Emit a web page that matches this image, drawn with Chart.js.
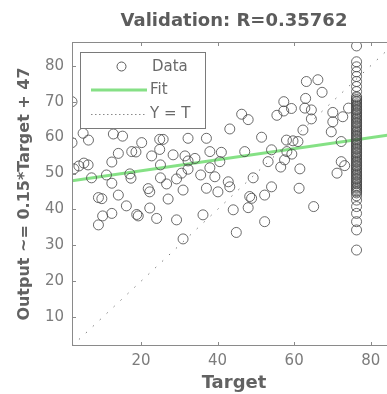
<!DOCTYPE html>
<html>
<head>
<meta charset="utf-8">
<title>Validation regression</title>
<script src="https://cdn.jsdelivr.net/npm/chart.js@4/dist/chart.umd.min.js"></script>
<style>
    html, body { margin: 0; padding: 0; background: #fff; overflow: hidden; }
    #wrap { width: 410px; height: 394px; }
</style>
</head>
<body>
<div id="wrap"><canvas id="regressionChart"></canvas></div>
<script>
// Datos (plotregression, conjunto de validacion)
const axisMin = 2;
const axisMax = 86.6;
const xTicks = [20, 40, 60, 80];
const yTicks = [10, 20, 30, 40, 50, 60, 70, 80];

// Puntos dispersos: target / output
const dataTarget = [
    2.0, 63.2, 66.2, 67.3, 57.3, 59.3, 57.3, 55.5, 63.0, 62.8, 64.5, 64.5, 62.3,
    70.1, 70.1, 72.7, 74.2, 69.7, 58.0, 59.7, 61.0, 72.3, 46.3, 48.0, 43.2, 32.3,
    37.1, 51.5, 4.9, 6.3, 2.0, 12.8, 15.2, 20.2, 14.1, 17.6, 18.7, 22.8, 24.9,
    25.8, 24.9, 28.4, 31.5, 32.3, 34.1, 38.0, 41.0, 40.6, 38.0, 47.1, 54.1, 53.2,
    58.1, 59.4, 57.5, 56.5, 72.3, 73.2, 71.2, 61.5, 61.3, 65.1, 2.5, 3.8, 5.1,
    6.2, 12.4, 7.1, 11.0, 12.4, 17.1, 17.4, 25.1, 25.1, 26.7, 29.3, 30.6, 32.3,
    35.6, 39.3, 31.0, 42.8, 43.2, 40.1, 37.1, 49.3, 54.1, 52.3, 48.4, 48.9, 48.0,
    44.1, 36.2, 29.3, 52.3, 44.9, 31.0, 8.9, 9.8, 14.1, 21.9, 22.3, 27.1, 16.2,
    22.3, 18.9, 19.3, 12.4, 10.0, 8.9, 24.1
];
const dataOutput = [
    70.0, 75.6, 76.1, 72.6, 70.0, 68.1, 67.4, 66.2, 70.9, 68.2, 67.7, 65.2, 62.1,
    67.0, 64.4, 65.8, 68.2, 61.6, 59.3, 59.1, 58.9, 58.9, 66.5, 65.0, 62.4, 59.8,
    59.8, 60.1, 61.2, 59.3, 58.6, 61.0, 60.4, 58.6, 55.6, 56.1, 56.0, 54.9, 59.5,
    59.5, 56.7, 55.2, 54.9, 53.5, 54.2, 56.1, 55.9, 53.3, 51.6, 56.1, 56.6, 53.3,
    56.1, 55.4, 53.8, 51.8, 53.3, 52.2, 50.1, 51.3, 45.9, 40.8, 51.3, 52.1, 52.9,
    52.4, 53.2, 48.8, 49.6, 47.3, 49.9, 48.7, 52.4, 48.8, 47.1, 48.5, 50.1, 51.2,
    49.6, 49.1, 45.4, 47.7, 46.3, 44.9, 45.9, 48.8, 46.3, 44.0, 43.6, 43.1, 40.5,
    39.9, 38.5, 37.1, 36.6, 33.6, 31.8, 43.3, 43.0, 44.0, 45.8, 44.9, 42.9, 41.0,
    40.4, 38.6, 38.2, 38.9, 38.2, 35.7, 37.5
];

// Columna de targets iguales (~76): la zona densa se ve como una banda gris
const columnTarget = 76.3;
const columnOutput = [
    85.5, 81.1, 79.7, 78.3, 77.0, 75.6, 74.2, 72.8,
    71.4, 71.1, 70.6, 70.2, 69.9, 69.4, 69.0, 68.7, 68.2, 67.8, 67.5, 67.0,
    66.6, 66.3, 65.8, 65.4, 65.1, 64.6, 64.2, 63.9, 63.4, 63.0, 62.7, 62.2,
    61.8, 61.5, 61.0, 60.6, 60.3, 59.8, 59.4, 59.1, 58.6, 58.2, 57.9, 57.4,
    57.0, 56.7, 56.2, 55.8, 55.5, 55.0, 54.6, 54.3, 53.8, 53.4, 53.1, 52.6,
    52.2, 51.9, 51.4, 51.0, 50.7, 50.2, 49.8, 49.5, 49.0, 48.6, 48.3, 47.8,
    47.4, 47.1, 46.6, 46.2, 45.9, 45.4, 45.0, 44.6,
    43.8, 42.6, 40.8, 38.9, 36.6, 34.3, 28.7
];

// Recta de ajuste y recta Y = T (extremos)
const fitTarget = [2, 86.6];
const fitOutput = [48.0, 61.0];
const identityTarget = [2, 86.6];
const identityOutput = [2, 86.6];

const FONT = 'DejaVu Sans';
const AXIS_COLOR = '#8a8a8a';
const TICK_COLOR = '#7c7c7c';
const LABEL_COLOR = '#626262';

const points = dataTarget.map((t, i) => ({ x: t, y: dataOutput[i] }))
    .concat(columnOutput.map(v => ({ x: columnTarget, y: v })));

// Marco, marcas interiores y leyenda al estilo MATLAB
const matlabFrame = {
    id: 'matlabFrame',
    afterDraw(chart) {
        const { ctx, chartArea: a, scales } = chart;
        ctx.save();
        ctx.strokeStyle = AXIS_COLOR;
        ctx.lineWidth = 1;
        ctx.strokeRect(a.left + 0.5, a.top + 0.5, a.right - a.left - 1, a.bottom - a.top - 1);

        ctx.beginPath();
        xTicks.forEach(v => {
            const px = Math.round(scales.x.getPixelForValue(v)) + 0.5;
            ctx.moveTo(px, a.bottom); ctx.lineTo(px, a.bottom - 4);
            ctx.moveTo(px, a.top); ctx.lineTo(px, a.top + 4);
        });
        yTicks.forEach(v => {
            const py = Math.round(scales.y.getPixelForValue(v)) + 0.5;
            ctx.moveTo(a.left, py); ctx.lineTo(a.left + 4, py);
            ctx.moveTo(a.right, py); ctx.lineTo(a.right - 4, py);
        });
        ctx.stroke();

        // leyenda
        const box = { left: 80, top: 52, right: 205, bottom: 128 };
        ctx.fillStyle = '#fff';
        ctx.fillRect(box.left, box.top, box.right - box.left, box.bottom - box.top);
        ctx.strokeStyle = '#7a7a7a';
        ctx.strokeRect(box.left + 0.5, box.top + 0.5, box.right - box.left, box.bottom - box.top);

        ctx.strokeStyle = '#5a5a5a';
        ctx.beginPath();
        ctx.arc(121.5, 66.5, 4.5, 0, Math.PI * 2);
        ctx.stroke();

        ctx.strokeStyle = '#86e086';
        ctx.lineWidth = 3;
        ctx.beginPath();
        ctx.moveTo(91, 90); ctx.lineTo(147, 90);
        ctx.stroke();

        ctx.strokeStyle = '#8a8a8a';
        ctx.lineWidth = 1;
        ctx.setLineDash([1.5, 2.5]);
        ctx.beginPath();
        ctx.moveTo(91, 114.5); ctx.lineTo(147, 114.5);
        ctx.stroke();
        ctx.setLineDash([]);

        ctx.fillStyle = '#6a6a6a';
        ctx.font = '15px "' + FONT + '"';
        ctx.textBaseline = 'middle';
        ctx.textAlign = 'left';
        ctx.fillText('Data', 152, 67);
        ctx.fillText('Fit', 150, 90);
        ctx.fillText('Y = T', 150, 114);
        ctx.restore();
    }
};

const ctx = document.getElementById('regressionChart');
new Chart(ctx.getContext('2d'), {
    type: 'scatter',
    data: {
        datasets: [
            {
                label: 'Data',
                data: points,
                pointStyle: 'circle',
                pointRadius: 5,
                pointBorderWidth: 1,
                pointBackgroundColor: 'rgba(0, 0, 0, 0)',
                pointBorderColor: 'rgba(70, 70, 70, 0.8)'
            },
            {
                label: 'Y = T',
                data: identityTarget.map((t, i) => ({ x: t, y: identityOutput[i] })),
                showLine: true,
                borderColor: '#7a7a7a',
                borderWidth: 1,
                borderDash: [1.5, 8],
                pointRadius: 0
            },
            {
                label: 'Fit',
                data: fitTarget.map((t, i) => ({ x: t, y: fitOutput[i] })),
                showLine: true,
                borderColor: 'rgba(120, 222, 120, 0.9)',
                borderWidth: 3,
                pointRadius: 0
            }
        ]
    },
    options: {
        responsive: true,
        maintainAspectRatio: false,
        animation: false,
        layout: {
            padding: { left: 0, right: 14, top: 0, bottom: 0 }
        },
        plugins: {
            legend: { display: false },
            tooltip: { enabled: false },
            title: {
                display: true,
                text: 'Validation: R=0.35762',
                fullSize: false,
                color: '#5c5c5c',
                font: { family: FONT, size: 18, weight: 'bold' },
                padding: { top: 11, bottom: 9.4 }
            }
        },
        scales: {
            x: {
                type: 'linear',
                min: axisMin,
                max: axisMax,
                afterBuildTicks: scale => { scale.ticks = xTicks.map(v => ({ value: v })); },
                afterFit: scale => { scale.height = 48; },
                grid: { display: false, drawTicks: false },
                border: { display: false },
                ticks: {
                    padding: 6,
                    color: TICK_COLOR,
                    font: { family: FONT, size: 15 }
                },
                title: {
                    display: true,
                    text: 'Target',
                    color: LABEL_COLOR,
                    font: { family: FONT, size: 18, weight: 'bold' },
                    padding: { top: 0, bottom: 0 }
                }
            },
            y: {
                type: 'linear',
                min: axisMin,
                max: axisMax,
                afterBuildTicks: scale => { scale.ticks = yTicks.map(v => ({ value: v })); },
                afterFit: scale => { scale.width = 72; },
                grid: { display: false, drawTicks: false },
                border: { display: false },
                ticks: {
                    padding: 8,
                    color: TICK_COLOR,
                    font: { family: FONT, size: 15 }
                },
                title: {
                    display: true,
                    text: 'Output ~= 0.15*Target + 47',
                    color: LABEL_COLOR,
                    font: { family: FONT, size: 16, weight: 'bold' },
                    padding: { top: 15.4, bottom: 0 }
                }
            }
        }
    },
    plugins: [matlabFrame]
});
</script>
</body>
</html>
